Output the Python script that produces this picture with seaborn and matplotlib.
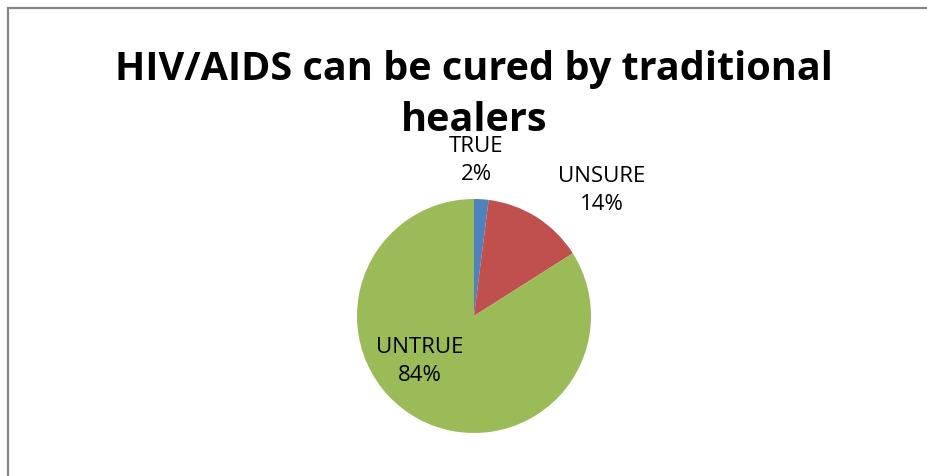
import matplotlib
matplotlib.use("Agg")
import matplotlib.pyplot as plt
import seaborn as sns
from matplotlib.patches import Rectangle

# data
categories = ["TRUE", "UNSURE", "UNTRUE"]
percents = [2, 14, 84]
title = "HIV/AIDS can be cured by traditional\nhealers"

sns.set_theme(style="white")
plt.rcParams['font.family'] = ['Open Sans', 'DejaVu Sans']
plt.rcParams['text.color'] = 'black'
colors = sns.color_palette(["#4F81BD", "#C0504D", "#9BBB59"])

W, H = 927, 476
fig = plt.figure(figsize=(W / 100, H / 100), dpi=100)

# outer chart border
fig.patches.append(Rectangle((8 / W, -0.1), 1.2, (H - 8) / H + 0.1,
                             transform=fig.transFigure, fill=False,
                             edgecolor="#868686", linewidth=1.6))

# pie axes: centre (474, 316) px, radius 117 px
cx, cy, r = 474, 316, 117
ax = fig.add_axes([(cx - r) / W, (H - cy - r) / H, 2 * r / W, 2 * r / H])
wedges, texts = ax.pie(percents, colors=colors, startangle=90,
                       counterclock=False, radius=1,
                       labels=[f"{c}\n{p}%" for c, p in zip(categories, percents)],
                       textprops=dict(fontsize=16, color="black",
                                      linespacing=1.45, ha="center", va="center"),
                       wedgeprops=dict(linewidth=0))
label_pos = [(0.02, 1.33), (1.09, 1.07), (-0.46, -0.39)]
for t, pos in zip(texts, label_pos):
    t.set_position(pos)
    t.set_ha("center")
ax.set_xlim(-1, 1)
ax.set_ylim(-1, 1)
ax.axis("off")

fig.text(0.511, 1 - 95 / H, title, ha="center", va="center", color="black",
         fontsize=28.5, fontweight="bold", linespacing=1.38)

fig.savefig("out.png", dpi=100)
